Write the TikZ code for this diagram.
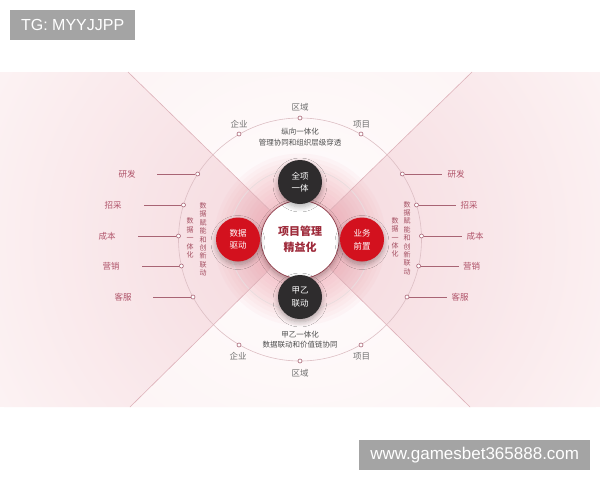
\documentclass[tikz,border=0pt]{standalone}
\usepackage{fontspec}
\setmainfont{Noto Sans CJK SC}
\newfontfamily\wmfont{Liberation Sans}
\usetikzlibrary{calc,shadows.blur}
\definecolor{bandpink}{HTML}{FCF2F3}
\definecolor{wedgein}{HTML}{F5D8DD}
\definecolor{topin}{HTML}{FFFCFC}
\definecolor{topout}{HTML}{FCF2F3}
\definecolor{glowc}{HTML}{EE9AA6}
\definecolor{labred}{HTML}{B0546A}
\definecolor{greytxt}{HTML}{707070}
\definecolor{linec}{HTML}{A86474}
\definecolor{desctxt}{HTML}{4D4D4D}
\definecolor{verttxt}{HTML}{A34D60}
\definecolor{bigcirc}{HTML}{DDBFC4}
\definecolor{diagc}{HTML}{DDB0B8}
\definecolor{ringc}{HTML}{EADCDE}
\definecolor{ccring}{HTML}{8E3A48}
\definecolor{ctext}{HTML}{9E2A3A}
\definecolor{darkfill}{HTML}{2E2C2D}
\definecolor{redfill}{HTML}{D3111E}
\definecolor{wmgray}{HTML}{A4A4A4}
\begin{document}
\begin{tikzpicture}[x=1pt,y=-1pt,
  lbl/.style={font=\fontsize{8.5}{10}\selectfont, text=labred, inner sep=0pt},
  glbl/.style={font=\fontsize{8.5}{10}\selectfont, text=greytxt, inner sep=0pt},
  dotn/.style={circle, draw=linec, fill=white, line width=0.6pt, minimum size=4pt, inner sep=0pt},
  conn/.style={draw=linec, line width=0.7pt},
  diag/.style={draw=diagc, line width=0.6pt},
  desc/.style={font=\fontsize{7.5}{10.6}\selectfont, text=desctxt, align=center, inner sep=0pt},
  vert/.style={font=\fontsize{7}{8.4}\selectfont, text=verttxt, align=center, inner sep=0pt},
  softshadow/.style={blur shadow={shadow blur steps=8, shadow xshift=0pt, shadow yshift=-3pt, shadow opacity=30, shadow blur radius=5pt}},
  darkc/.style={circle, minimum size=44pt, inner sep=0pt, fill=darkfill, text=white, font=\fontsize{8.5}{12.5}\selectfont, align=center, softshadow},
  redc/.style={darkc, fill=redfill},
  wm/.style={fill=wmgray, text=white, font=\wmfont\fontsize{16}{18}\selectfont, inner sep=0pt, anchor=north west},
]
\useasboundingbox (0,0) rectangle (600,480);
\fill[white] (0,0) rectangle (600,480);
% band
\fill[bandpink] (0,72) rectangle (600,407);
\coordinate (c) at (300,239.5);
\coordinate (ul) at (128,72);
\coordinate (ll) at (130,407);
\coordinate (ur) at (472,72);
\coordinate (lr) at (470,407);
% side wedges
\begin{scope}
  \clip (c) -- (ul) -- (0,72) -- (0,407) -- (ll) -- cycle;
  \shade[inner color=wedgein, outer color=bandpink] (c) circle (340);
\end{scope}
\begin{scope}
  \clip (c) -- (ur) -- (600,72) -- (600,407) -- (lr) -- cycle;
  \shade[inner color=wedgein, outer color=bandpink] (c) circle (340);
\end{scope}
% top and bottom wedges
\begin{scope}
  \clip (c) -- (ul) -- (ur) -- cycle;
  \shade[inner color=topin, outer color=topout] (c) circle (330);
\end{scope}
\begin{scope}
  \clip (c) -- (ll) -- (lr) -- cycle;
  \shade[inner color=topin, outer color=topout] (c) circle (330);
\end{scope}
% big circle
\draw[bigcirc, line width=0.6pt] (c) circle (121.5);
% glow
\foreach \r in {86,82,...,42} {\fill[glowc, opacity=0.06] (c) circle (\r);}
\draw[ringc, line width=0.8pt] (c) circle (71);
% centre
\node[circle, minimum size=78pt, inner sep=0pt, fill=white, draw=ccring, line width=0.7pt, softshadow,
  font=\bfseries\fontsize{11}{16}\selectfont, text=ctext, align=center] (cc) at (c) {项目管理\\精益化};
% diagonals
\draw[diag] (cc) -- (ul);
\draw[diag] (cc) -- (ll);
\draw[diag] (cc) -- (ur);
\draw[diag] (cc) -- (lr);
% four circles
\node[darkc] (qx) at (300,182) {全项\\一体};
\node[darkc] (jy) at (300,297) {甲乙\\联动};
\node[redc] (sj) at (238,239.5) {数据\\驱动};
\node[redc] (yw) at (362,239.5) {业务\\前置};
% top dots
\node[dotn] (tq) at (300,118) {};
\node[dotn] (tl) at (239,134) {};
\node[dotn] (tr) at (361,134) {};
\node[glbl] (tqL) at (300,107) {区域};
\node[glbl] (tlL) at (239,124) {企业};
\node[glbl] (trL) at (361.5,124) {项目};
\node[desc] (tdesc) at (300,137) {纵向一体化\\管理协同和组织层级穿透};
% bottom dots
\node[dotn] (bq) at (300,361) {};
\node[dotn] (bl) at (239,345) {};
\node[dotn] (br) at (361,345) {};
\node[glbl] (bqL) at (300,373) {区域};
\node[glbl] (blL) at (238,356) {企业};
\node[glbl] (brL) at (361.5,356) {项目};
\node[desc] (bdesc) at (300,339.5) {甲乙一体化\\数据联动和价值链协同};
% left side
\node[dotn] (l1) at (197.7,174) {};
\node[dotn] (l2) at (183.5,205) {};
\node[dotn] (l3) at (178.5,236) {};
\node[dotn] (l4) at (181.4,266) {};
\node[dotn] (l5) at (193,297) {};
\coordinate (ls1) at (157,174);
\coordinate (ls2) at (144,205);
\coordinate (ls3) at (138,236);
\coordinate (ls4) at (142,266);
\coordinate (ls5) at (153,297);
\draw[conn] (ls1) -- (l1);
\draw[conn] (ls2) -- (l2);
\draw[conn] (ls3) -- (l3);
\draw[conn] (ls4) -- (l4);
\draw[conn] (ls5) -- (l5);
\node[lbl] (lL1) at (127,174) {研发};
\node[lbl] (lL2) at (113,205) {招采};
\node[lbl] (lL3) at (107,236) {成本};
\node[lbl] (lL4) at (111,266) {营销};
\node[lbl] (lL5) at (123,297) {客服};
\node[vert] (lv1) at (203,239.5) {数\\据\\赋\\能\\和\\创\\新\\联\\动};
\node[vert] (lv2) at (190,238) {数\\据\\一\\体\\化};
% right side
\node[dotn] (r1) at (402.3,174) {};
\node[dotn] (r2) at (416.5,205) {};
\node[dotn] (r3) at (421.5,236) {};
\node[dotn] (r4) at (418.6,266) {};
\node[dotn] (r5) at (407,297) {};
\coordinate (rs1) at (442,174);
\coordinate (rs2) at (456,205);
\coordinate (rs3) at (461.5,236);
\coordinate (rs4) at (459,266);
\coordinate (rs5) at (447,297);
\draw[conn] (r1) -- (rs1);
\draw[conn] (r2) -- (rs2);
\draw[conn] (r3) -- (rs3);
\draw[conn] (r4) -- (rs4);
\draw[conn] (r5) -- (rs5);
\node[lbl] (rL1) at (456,174) {研发};
\node[lbl] (rL2) at (469,205) {招采};
\node[lbl] (rL3) at (475,236) {成本};
\node[lbl] (rL4) at (471.5,266) {营销};
\node[lbl] (rL5) at (460,297) {客服};
\node[vert] (rv1) at (407,238) {数\\据\\赋\\能\\和\\创\\新\\联\\动};
\node[vert] (rv2) at (395,237.5) {数\\据\\一\\体\\化};
% watermark boxes
\node[wm, minimum width=125pt, minimum height=30pt] (tg) at (10,10) {TG: MYYJJPP};
\node[wm, minimum width=231pt, minimum height=30pt, font=\wmfont\fontsize{17}{19}\selectfont] (url) at (359,440) {www.gamesbet365888.com};
\end{tikzpicture}
\end{document}
